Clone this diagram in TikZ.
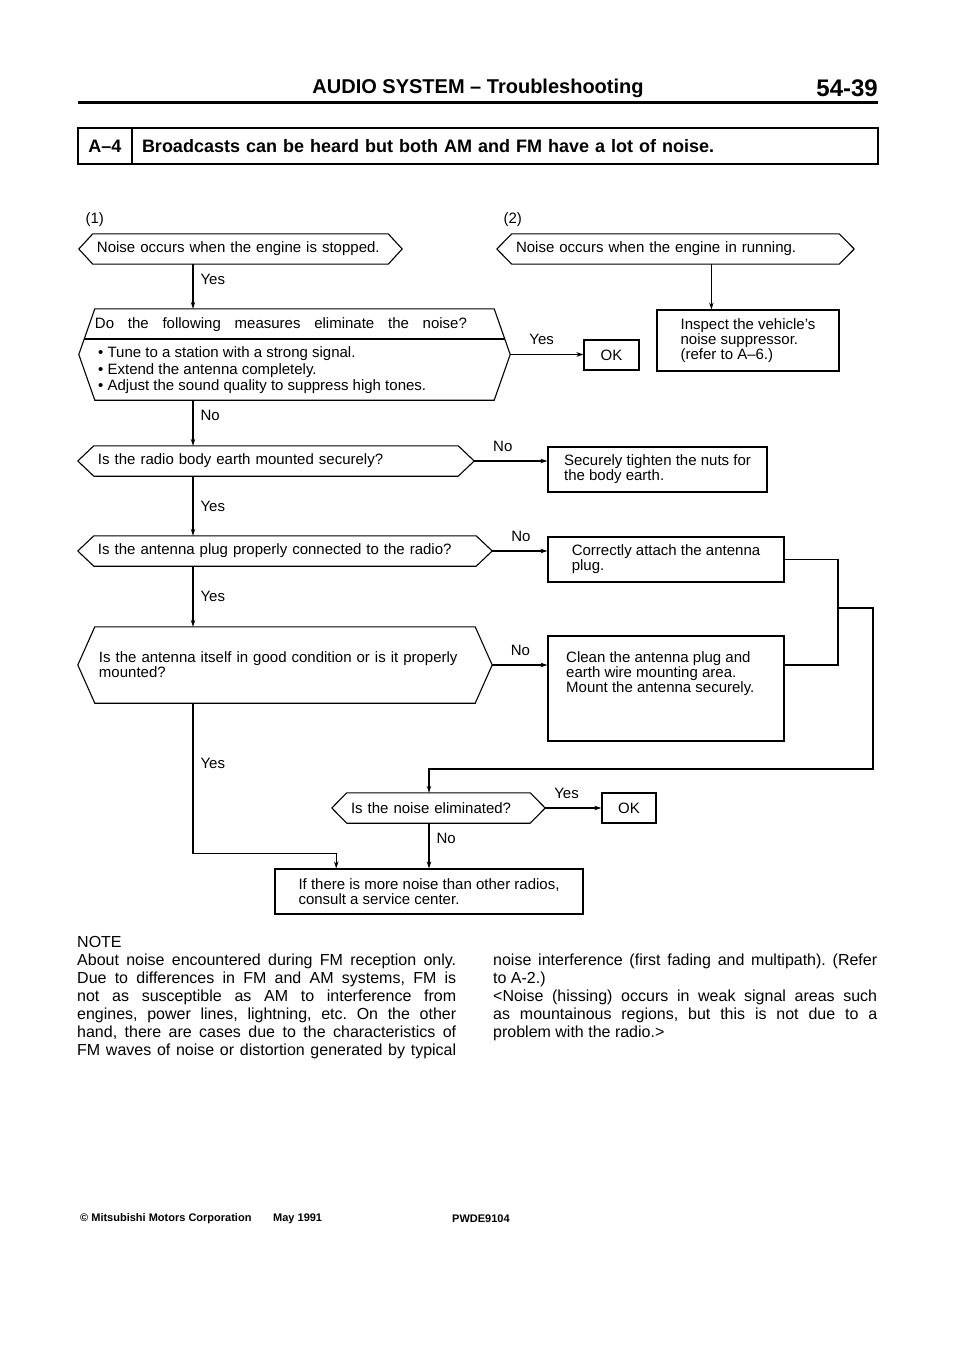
\documentclass[tikz,border=0pt]{standalone}
\usepackage{fontspec}
\setmainfont{Liberation Sans}
\usetikzlibrary{positioning,calc,arrows.meta}

\newcommand{\flowfont}{\fontsize{15bp}{15bp}\selectfont}
\newcommand{\listfont}{\fontsize{15bp}{16.5bp}\selectfont}
\newcommand{\notefont}{\fontsize{16bp}{18bp}\selectfont\frenchspacing}
\newcommand{\headfont}{\fontsize{20bp}{22bp}\selectfont\bfseries}
\newcommand{\pagefont}{\fontsize{24bp}{26bp}\selectfont\bfseries}
\newcommand{\titlefont}{\fontsize{18bp}{20bp}\selectfont\bfseries}
\newcommand{\footfont}{\fontsize{11bp}{12bp}\selectfont\bfseries}
\newcommand{\spreadline}[2]{\makebox[#1][s]{#2}}

% hexagon outline round a node, tips named <node>-w and <node>-e
\newcommand{\hexframe}[2]{%
  \draw[flowline] (#1.north west) -- (#1.north east) -- ([xshift=#2]#1.east) coordinate (#1-e)
    -- (#1.south east) -- (#1.south west) -- ([xshift=-#2]#1.west) coordinate (#1-w) -- cycle;}

\tikzset{
  flowline/.style={line width=1.1bp},
  hexq/.style={inner xsep=4bp, inner ysep=0bp, minimum height=30bp, align=left, font=\flowfont},
  actbox/.style={draw, flowline, inner sep=0bp, align=left, font=\flowfont},
  probcell/.style={draw, line width=1.4bp, outer sep=0pt, minimum height=36bp, font=\titlefont},
  lbl/.style={font=\flowfont, inner sep=3bp},
  >={Stealth[length=7bp,width=4.5bp]}
}

\begin{document}
\begin{tikzpicture}[x=1bp, y=-1bp]
  \fill[white] (0,0) rectangle (960,1358);
  \useasboundingbox (0,0) rectangle (960,1358);

  % page head
  \node[font=\headfont] (head) at (478,88) {AUDIO SYSTEM – Troubleshooting};
  \node[font=\pagefont, anchor=east, inner sep=0] (pageno) at (878,88) {54-39};
  \draw[line width=2.7bp] (78,102.5) -- (878,102.5);

  % problem line
  \node[probcell, minimum width=54bp, inner sep=0] (probid) at (105,146) {A–4};
  \node[probcell, minimum width=746bp, inner xsep=10bp, text width=726bp, align=left, right=0pt of probid] (probtxt)
    {Broadcasts can be heard but both AM and FM have a lot of noise.};

  % (1) engine stopped
  \coordinate (trunk) at (193,0);
  \node[font=\flowfont, anchor=west] (lab1) at (82,220) {(1)};
  \node[hexq, text width=287bp] (start1) at (240.5,249) {Noise occurs when the engine is stopped.};
  \hexframe{start1}{14bp}

  \node[hexq, minimum width=399bp, minimum height=91bp] (meas) at (294.5,354.5) {};
  \hexframe{meas}{16bp}
  \draw[flowline] ($(meas.north west)!0.66!(meas-w)$) -- ($(meas.north east)!0.66!(meas-e)$);
  \node[font=\flowfont] (meas-q) at (281,325) {\spreadline{372bp}{Do the following measures eliminate the noise?}};
  \node[font=\listfont, align=left, anchor=west, inner sep=0] (meas-l) at (98,370.5)
    {• Tune to a station with a strong signal.\\• Extend the antenna completely.\\• Adjust the sound quality to suppress high tones.};
  \node[actbox, minimum width=55bp, minimum height=30bp, align=center] (ok1) at (611.5,355) {OK};

  \node[hexq, text width=356bp] (q1) at (276,461) {Is the radio body earth mounted securely?};
  \hexframe{q1}{16bp}
  \node[hexq, text width=374bp] (q2) at (285,551) {Is the antenna plug properly connected to the radio?};
  \hexframe{q2}{16bp}
  \node[hexq, text width=372bp, minimum height=76bp] (q3) at (285,665)
    {Is the antenna itself in good condition or is it properly\\mounted?};
  \hexframe{q3}{17bp}

  \node[actbox, minimum width=219bp, minimum height=45bp] (fix1) at (657.5,469.5)
    {Securely tighten the nuts for\\the body earth.};
  \node[actbox, minimum width=236bp, minimum height=45bp] (fix2) at (666,559.5)
    {Correctly attach the antenna\\plug.};
  \node[actbox, minimum width=236bp, minimum height=105bp] (fix3) at (666,688.5) {};
  \node[font=\flowfont, align=left, anchor=north west, inner sep=0] (fix3-txt) at (566,651)
    {Clean the antenna plug and\\earth wire mounting area.\\Mount the antenna securely.};

  % (2) engine running
  \node[font=\flowfont, anchor=west] (lab2) at (500,220) {(2)};
  \node[hexq, text width=319bp] (start2) at (675.5,249) {Noise occurs when the engine in running.};
  \hexframe{start2}{15bp}
  \node[actbox, minimum width=182bp, minimum height=61bp] (insp) at (748,340.5)
    {Inspect the vehicle’s\\noise suppressor.\\(refer to A–6.)};
  \coordinate (insp-in) at ($(insp.north west)!0.3!(insp.north east)$);

  % final check
  \node[hexq, text width=175bp] (chk) at (438.5,808) {Is the noise eliminated?};
  \hexframe{chk}{15bp}
  \node[actbox, minimum width=54bp, minimum height=30bp, align=center] (ok2) at (629,808) {OK};
  \node[actbox, minimum width=308bp, minimum height=45bp] (svc) at (429,891.5)
    {If there is more noise than other radios,\\consult a service center.};
  \coordinate (svc-in) at ($(svc.north west)!0.2!(svc.north east)$);
  \coordinate (join) at (838,608);
  \coordinate (back) at (873,769);

  % connectors
  \draw[flowline,->] (start1.south -| trunk) -- node[lbl, right=4bp, pos=0.35]{Yes} (meas.north -| trunk);
  \draw[flowline,->] (meas-e) -- node[lbl, above=6bp, pos=0.43]{Yes} (ok1.west |- meas-e);
  \draw[flowline,->] (meas.south -| trunk) -- node[lbl, right=4bp, pos=0.33]{No} (q1.north -| trunk);
  \draw[flowline,->] (q1-e) -- node[lbl, above=6bp, pos=0.39]{No} (fix1.west |- q1-e);
  \draw[flowline,->] (q1.south -| trunk) -- node[lbl, right=4bp, pos=0.5]{Yes} (q2.north -| trunk);
  \draw[flowline,->] (q2-e) -- node[lbl, above=6bp, pos=0.52]{No} (fix2.west |- q2-e);
  \draw[flowline,->] (q2.south -| trunk) -- node[lbl, right=4bp, pos=0.5]{Yes} (q3.north -| trunk);
  \draw[flowline,->] (q3-e) -- node[lbl, above=6bp, pos=0.51]{No} (fix3.west |- q3-e);
  \draw[flowline,->] (start2.south -| insp-in) -- (insp-in);
  \draw[flowline] (fix2.east) -| (join);
  \draw[flowline] (fix3.east |- q3-e) -| (join);
  \draw[flowline,->] (join) -| (back) -| (chk.north -| svc.north);
  \draw[flowline,->] (q3.south -| trunk) -- node[lbl, right=4bp, pos=0.4]{Yes} ++(0,150) -| (svc-in);
  \draw[flowline,->] (chk-e) -- node[lbl, above=6bp, pos=0.38]{Yes} (ok2.west |- chk-e);
  \draw[flowline,->] (chk.south -| svc.north) -- node[lbl, right=4bp, pos=0.33]{No} (svc.north);

  % note
  \node[font=\notefont, align=left, anchor=north west, inner sep=0] (note-l) at (77,936)
    {NOTE\\
     \spreadline{379bp}{About noise encountered during FM reception only.}\\
     \spreadline{379bp}{Due to differences in FM and AM systems, FM is}\\
     \spreadline{379bp}{not as susceptible as AM to interference from}\\
     \spreadline{379bp}{engines, power lines, lightning, etc. On the other}\\
     \spreadline{379bp}{hand, there are cases due to the characteristics of}\\
     \spreadline{379bp}{FM waves of noise or distortion generated by typical}};
  \node[font=\notefont, align=left, anchor=north west, inner sep=0] (note-r) at (493,954)
    {\spreadline{384bp}{noise interference (first fading and multipath). (Refer}\\
     to A-2.)\\
     \spreadline{384bp}{<Noise (hissing) occurs in weak signal areas such}\\
     \spreadline{384bp}{as mountainous regions, but this is not due to a}\\
     problem with the radio.>};

  % foot
  \node[font=\footfont, anchor=west, inner sep=0] (foot-co) at (80,1219) {© Mitsubishi Motors Corporation};
  \node[font=\footfont, anchor=west, inner sep=0] (foot-date) at (273,1219) {May 1991};
  \node[font=\footfont, anchor=west, inner sep=0] (foot-code) at (452,1219) {PWDE9104};
\end{tikzpicture}
\end{document}
